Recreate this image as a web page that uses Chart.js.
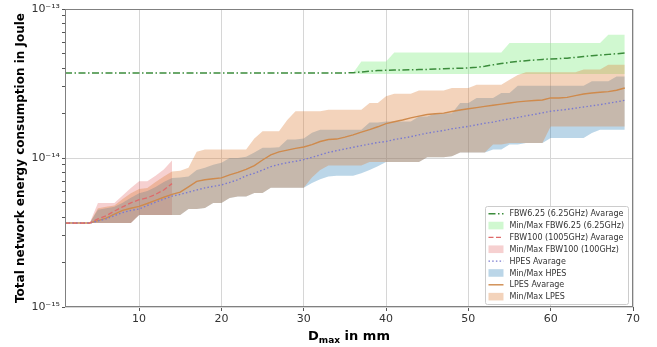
<!DOCTYPE html>
<html><head><meta charset="utf-8">
<script src="https://cdn.jsdelivr.net/npm/chart.js@4/dist/chart.umd.min.js"></script>
<style>html,body{margin:0;padding:0;background:#fff;}#wrap{width:657px;height:347px;position:relative;}</style>
</head><body><div id="wrap"><canvas id="c" width="657" height="347"></canvas></div>
<script>
// Dmax values (mm)
const xs = [1,2,3,4,5,6,7,8,9,10,11,12,13,14,15,16,17,18,19,20,21,22,23,24,25,26,27,28,29,30,31,32,33,34,35,36,37,38,39,40,41,42,43,44,45,46,47,48,49,50,51,52,53,54,55,56,57,58,59,60,61,62,63,64,65,66,67,68,69];
// all energies below in units of 1e-15 J (fJ)
const fbw625Avg = [37.2,37.2,37.2,37.2,37.2,37.2,37.2,37.2,37.2,37.2,37.2,37.2,37.2,37.2,37.2,37.2,37.2,37.2,37.2,37.2,37.2,37.2,37.2,37.2,37.2,37.2,37.2,37.2,37.2,37.2,37.2,37.2,37.2,37.2,37.2,
  37.4,37.8,38.3,38.6,38.8,38.9,39.0,39.1,39.2,39.3,39.5,39.7,39.9,40.0,40.2,40.6,41.3,42.2,43.0,43.8,44.5,45.0,45.4,45.9,46.2,46.5,46.8,47.3,48.0,48.6,49.1,49.6,50.1,50.6];
const fbw625Max = [37.2,37.2,37.2,37.2,37.2,37.2,37.2,37.2,37.2,37.2,37.2,37.2,37.2,37.2,37.2,37.2,37.2,37.2,37.2,37.2,37.2,37.2,37.2,37.2,37.2,37.2,37.2,37.2,37.2,37.2,37.2,37.2,37.2,37.2,37.2,37.2,
  44.4,44.4,44.4,44.4,51.1,51.1,51.1,51.1,51.1,51.1,51.1,51.1,51.1,51.1,51.1,51.1,51.1,51.1,59.1,59.1,59.1,59.1,59.1,59.1,59.1,59.1,59.1,59.1,59.1,59.1,67.3,67.3,67.3];
const fbw625Min = [37.2,37.2,37.2,37.2,37.2,37.2,37.2,37.2,37.2,37.2,37.2,37.2,37.2,37.2,37.2,37.2,37.2,37.2,37.2,37.2,37.2,37.2,37.2,37.2,37.2,37.2,37.2,37.2,37.2,37.2,37.2,37.2,37.2,37.2,37.2,37.2,
  36.6,36.6,36.6,36.6,36.6,36.6,36.6,36.6,36.6,36.6,36.6,36.6,36.6,36.6,36.6,36.6,36.6,36.6,36.6,36.6,36.6,36.6,36.6,36.6,36.6,36.6,36.6,36.6,36.6,36.6,36.6,36.6,36.6];
const fbw100Avg = [3.66,3.66,3.66,3.66,3.9,4.1,4.4,4.7,5.0,5.25,5.4,5.7,6.1,6.73];
const fbw100Max = [3.66,3.66,3.66,3.66,4.99,4.99,4.99,5.6,6.3,6.97,6.97,7.6,8.36,9.64];
const fbw100Min = [3.66,3.66,3.66,3.66,3.66,3.66,3.66,3.66,3.66,4.14,4.14,4.14,4.14,4.14];
const hpesAvg = [3.66,3.66,3.66,3.66,3.78,3.9,4.1,4.3,4.45,4.55,
  4.8,5.05,5.3,5.55,5.7,5.9,6.1,6.3,6.45,6.6,
  6.85,7.15,7.6,7.9,8.3,8.75,9.05,9.3,9.5,9.75,
  10.1,10.5,10.9,11.2,11.5,11.8,12.1,12.4,12.7,12.9,
  13.3,13.6,13.9,14.3,14.7,15.0,15.3,15.7,16.0,16.3,
  16.7,17.1,17.4,17.9,18.3,18.7,19.2,19.6,20.1,20.6,
  20.9,21.2,21.6,22.0,22.4,22.8,23.3,23.8,24.4];
const hpesMax = [3.66,3.66,3.66,3.66,4.5,4.6,4.7,5.0,5.4,5.8,
  6.0,6.4,6.9,7.34,7.4,7.5,8.3,8.6,9.0,9.3,
  10.0,10.0,10.2,10.9,11.7,11.7,11.8,13.3,13.3,13.5,
  14.8,15.5,15.5,15.5,15.5,15.5,15.5,17.3,17.3,17.6,
  17.6,17.6,17.6,19.0,19.0,20.0,20.0,20.0,23.4,23.4,
  25.3,25.3,25.3,27.3,27.3,30.5,30.5,30.5,30.5,30.5,
  30.5,30.5,30.5,30.5,32.7,32.7,32.7,35.3,35.3];
const hpesMin = [3.66,3.66,3.66,3.66,3.66,3.66,3.66,3.66,3.66,4.14,
  4.14,4.14,4.14,4.14,4.14,4.55,4.55,4.62,4.99,4.99,
  5.39,5.52,5.52,5.82,5.82,6.32,6.32,6.32,6.32,6.32,
  6.8,7.2,7.5,7.6,7.6,7.6,7.9,8.3,8.8,9.4,
  9.4,9.4,9.4,9.4,10.1,10.1,10.1,10.26,10.9,10.9,
  10.9,10.9,11.4,11.4,12.3,12.3,12.6,12.6,12.6,13.6,
  13.6,13.6,13.6,13.6,14.7,15.5,15.5,15.5,15.5];
const lpesAvg = [3.66,3.66,3.66,3.66,3.8,3.95,4.2,4.45,4.6,4.73,
  4.95,5.2,5.45,5.7,5.9,6.4,6.97,7.15,7.25,7.35,
  7.7,8.0,8.4,8.9,9.7,10.5,11.0,11.3,11.6,11.85,
  12.3,12.9,13.3,13.4,13.8,14.3,14.9,15.5,16.2,17.0,
  17.5,18.0,18.6,19.1,19.6,19.8,20.0,20.5,21.0,21.4,
  21.8,22.2,22.6,23.0,23.4,23.8,24.1,24.3,24.5,25.3,
  25.3,25.5,26.2,26.9,27.3,27.6,27.9,28.5,29.5];
const lpesMax = [3.66,3.66,3.66,3.66,4.6,4.7,4.8,5.3,5.8,6.2,
  6.3,6.9,7.5,8.13,8.2,8.6,11.0,11.4,11.4,11.4,
  11.4,11.4,11.4,13.5,15.1,15.1,15.1,18.0,20.6,20.6,
  20.6,20.6,21.1,21.1,21.1,21.1,21.1,23.4,23.4,26.0,
  27.0,27.0,27.0,28.4,28.4,28.4,28.4,29.5,29.5,29.5,
  31.0,31.0,31.0,31.0,33.5,36.0,37.7,37.7,37.7,37.7,
  37.7,37.7,37.7,39.2,39.2,39.2,42.3,42.3,42.3];
const lpesMin = [3.66,3.66,3.66,3.66,3.66,3.66,3.66,3.66,3.66,4.14,
  4.14,4.14,4.14,4.14,4.14,4.55,4.55,4.62,4.99,4.99,
  5.39,5.52,5.52,5.82,5.82,6.32,6.32,6.32,6.32,6.32,
  7.4,8.3,8.9,8.9,8.9,8.9,8.9,9.4,9.4,9.4,
  9.4,9.4,9.4,9.4,10.1,10.1,10.1,10.26,10.9,10.9,
  10.9,10.9,12.3,12.3,12.6,12.6,12.6,12.6,12.6,16.3,
  16.3,16.3,16.3,16.3,16.3,16.3,16.3,16.3,16.3];

const xTicks = [10,20,30,40,50,60,70];
const yMajorTicks = [1e-15,1e-14,1e-13];
const yMajorLabels = ['10\u207B\u00B9\u2075','10\u207B\u00B9\u2074','10\u207B\u00B9\u00B3'];
const yMinorTicks = [2e-15,3e-15,4e-15,5e-15,6e-15,7e-15,8e-15,9e-15,2e-14,3e-14,4e-14,5e-14,6e-14,7e-14,8e-14,9e-14];
const legendLabels = ['FBW6.25 (6.25GHz) Avarage','Min/Max FBW6.25 (6.25GHz)','FBW100 (1005GHz) Avarage','Min/Max FBW100 (100GHz)','HPES Avarage','Min/Max HPES','LPES Avarage','Min/Max LPES'];
const xTitleMain = 'D', xTitleSub = 'max', xTitleRest = ' in mm';
const yTitle = 'Total network energy consumption in Joule';

const UNIT = 1e-15;
const FONT = '"DejaVu Sans", "Liberation Sans", sans-serif';
const pts = arr => arr.map((v, i) => ({x: xs[i], y: v * UNIT}));

const series = [
  {avg: fbw625Avg, min: fbw625Min, max: fbw625Max, line: '#3b8c3b', dash: [7, 2.5, 1.5, 2.5], lw: 1.5, fill: 'rgba(144,238,144,0.42)', order: 4},
  {avg: fbw100Avg, min: fbw100Min, max: fbw100Max, line: '#df6a6a', dash: [5, 2.5], lw: 1.3, fill: 'rgba(214,39,40,0.22)', order: 3},
  {avg: hpesAvg, min: hpesMin, max: hpesMax, line: '#7a7ad0', dash: [1.5, 2.2], lw: 1.4, fill: 'rgba(31,119,180,0.3)', order: 2},
  {avg: lpesAvg, min: lpesMin, max: lpesMax, line: '#cf8a4c', dash: [], lw: 1.4, fill: 'rgba(220,130,60,0.35)', order: 1}
];

const datasets = [];
series.forEach(s => {
  const minIdx = datasets.length;
  datasets.push({data: pts(s.min), borderWidth: 0, borderColor: 'rgba(0,0,0,0)', pointRadius: 0, fill: false, order: s.order});
  datasets.push({data: pts(s.max), borderWidth: 0, borderColor: 'rgba(0,0,0,0)', pointRadius: 0, fill: {target: minIdx}, backgroundColor: s.fill, order: s.order});
});
series.forEach((s, k) => {
  datasets.push({data: pts(s.avg), borderColor: s.line, borderWidth: s.lw, borderDash: s.dash, pointRadius: 0, fill: false, tension: 0, order: -1 - (3 - k)});
});

const isDecade = v => yMajorTicks.some(m => Math.abs(Math.log10(v) - Math.log10(m)) < 1e-6);

const framePlugin = {
  id: 'frame',
  afterDatasetsDraw(chart) {
    const {ctx, chartArea: a} = chart;
    ctx.save();
    ctx.strokeStyle = '#808080';
    ctx.lineWidth = 1;
    ctx.strokeRect(Math.round(a.left) + 0.5, Math.round(a.top) + 0.5, Math.round(a.right - a.left) - 1, Math.round(a.bottom - a.top) - 1);
    ctx.restore();
  }
};

const xTitlePlugin = {
  id: 'xtitle',
  afterDraw(chart) {
    const {ctx, chartArea: a} = chart;
    ctx.save();
    ctx.fillStyle = '#000';
    ctx.textBaseline = 'alphabetic';
    const big = 'bold 13px ' + FONT, small = 'bold 9px ' + FONT;
    ctx.font = big; const w1 = ctx.measureText(xTitleMain).width; const w3 = ctx.measureText(xTitleRest).width;
    ctx.font = small; const w2 = ctx.measureText(xTitleSub).width;
    let x = (a.left + a.right) / 2 - (w1 + w2 + w3) / 2;
    const base = 340;
    ctx.font = big; ctx.fillText(xTitleMain, x, base); x += w1;
    ctx.font = small; ctx.fillText(xTitleSub, x, base + 3); x += w2;
    ctx.font = big; ctx.fillText(xTitleRest, x, base);
    ctx.restore();
  }
};

const legendPlugin = {
  id: 'boxlegend',
  afterDraw(chart) {
    const {ctx, chartArea: a} = chart;
    ctx.save();
    ctx.font = '8px ' + FONT;
    const tw = Math.max(...legendLabels.map(t => ctx.measureText(t).width));
    const rowH = 11.85;
    const boxW = 24 + tw + 4, boxH = rowH * legendLabels.length + 3;
    const x0 = a.right - 5 - boxW, y0 = a.bottom - 3 - boxH;
    ctx.fillStyle = 'rgba(255,255,255,0.85)';
    ctx.strokeStyle = '#cccccc';
    ctx.lineWidth = 1;
    ctx.beginPath();
    ctx.roundRect(Math.round(x0) + 0.5, Math.round(y0) + 0.5, Math.round(boxW), Math.round(boxH), 2);
    ctx.fill(); ctx.stroke();
    legendLabels.forEach((t, i) => {
      const s = series[Math.floor(i / 2)];
      const cy = y0 + 7.5 + i * rowH;
      if (i % 2 === 0) {
        ctx.strokeStyle = s.line; ctx.lineWidth = s.lw;
        ctx.setLineDash(s.dash);
        ctx.beginPath(); ctx.moveTo(x0 + 3, cy); ctx.lineTo(x0 + 18, cy); ctx.stroke();
        ctx.setLineDash([]);
      } else {
        ctx.fillStyle = s.fill;
        ctx.fillRect(x0 + 3, cy - 3.8, 15, 7.6);
      }
      ctx.fillStyle = '#333';
      ctx.textBaseline = 'middle';
      ctx.fillText(t, x0 + 24, cy + 0.5);
    });
    ctx.restore();
  }
};

new Chart(document.getElementById('c'), {
  type: 'line',
  data: {datasets},
  options: {
    responsive: false, animation: false, devicePixelRatio: 1,
    layout: {padding: {top: 9, right: 24, bottom: 0, left: 0}},
    plugins: {legend: {display: false}, tooltip: {enabled: false}, filler: {drawTime: 'beforeDatasetsDraw', propagate: false}},
    scales: {
      x: {
        type: 'linear', min: 1, max: 70,
        afterBuildTicks: s => { s.ticks = xTicks.map(v => ({value: v})); },
        afterFit: s => { s.height = 40; },
        grid: {color: '#d6d6d6', lineWidth: 1, tickLength: 4, tickColor: '#555', drawTicks: true},
        border: {display: false},
        ticks: {font: {family: FONT, size: 11}, color: '#333', padding: 2, maxRotation: 0, autoSkip: false}
      },
      y: {
        type: 'logarithmic', min: 1e-15, max: 1e-13,
        afterBuildTicks: s => { s.ticks = yMajorTicks.concat(yMinorTicks).sort((p, q) => p - q).map(v => ({value: v})); },
        afterFit: s => { s.width = 65; },
        grid: {color: c => (c.tick && isDecade(c.tick.value)) ? '#d6d6d6' : 'rgba(0,0,0,0)', tickColor: '#555', tickLength: 3},
        border: {display: false},
        ticks: {
          autoSkip: false, padding: 2, color: '#333', font: {family: FONT, size: 11},
          callback: v => { const k = yMajorTicks.findIndex(m => Math.abs(Math.log10(v) - Math.log10(m)) < 1e-6); return k >= 0 ? yMajorLabels[k] : ''; }
        },
        title: {display: true, text: yTitle, color: '#000', font: {family: FONT, size: 12, weight: 'bold'}, padding: {top: 14, bottom: 0}}
      }
    }
  },
  plugins: [framePlugin, xTitlePlugin, legendPlugin]
});
</script></body></html>
